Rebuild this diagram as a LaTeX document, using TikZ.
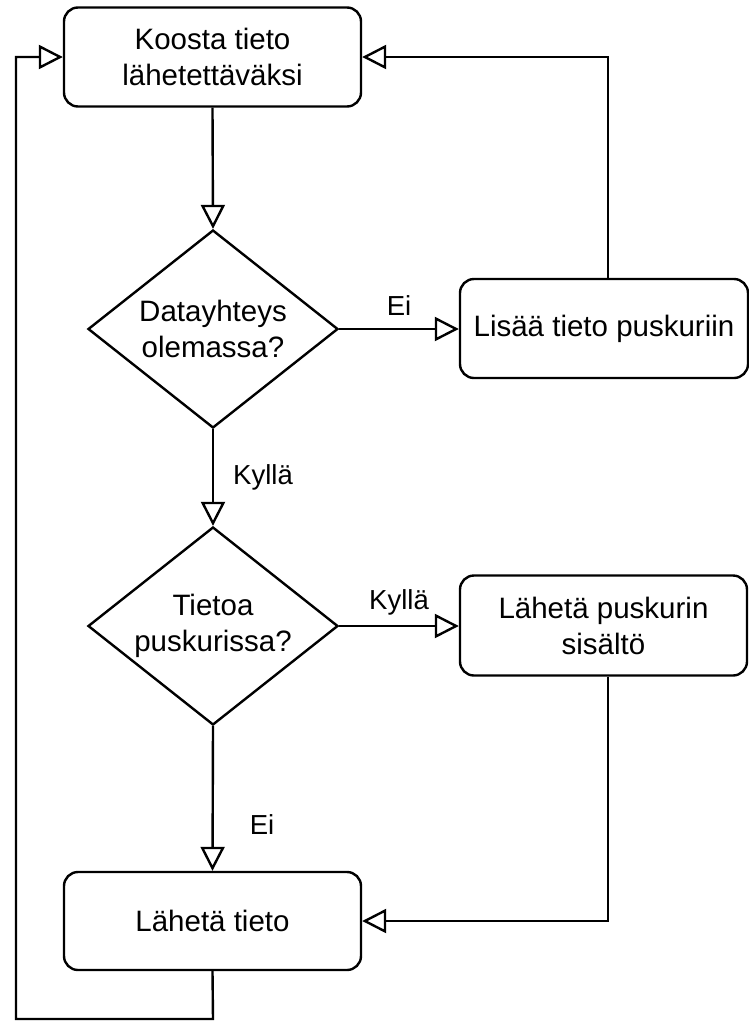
\documentclass[tikz,border=0pt]{standalone}
\usepackage{fontspec}
\setmainfont{Liberation Sans}
\usetikzlibrary{arrows.meta,shapes.geometric}
\begin{document}
\begin{tikzpicture}[x=1pt,y=-1pt,
  every node/.style={font=\fontsize{29.5}{36}\selectfont},
  proc/.style={draw,line width=2.4pt,rounded corners=14pt,align=center,inner sep=0pt},
  dec/.style={draw,line width=2.4pt,diamond,aspect=1.26,align=center,inner sep=0pt,minimum width=250pt,minimum height=198pt},
  conn/.style={line width=2.4pt,-{Triangle[open,length=24pt,width=24pt,line width=2.4pt]}},
  lbl/.style={inner sep=0pt,font=\fontsize{27.5}{33}\selectfont}]
\useasboundingbox (0,0) rectangle (748,1021);
\node[proc,minimum width=297pt,minimum height=99pt] (b1) at (212.5,57) {Koosta tieto\\lähetettäväksi};
\node[dec] (d1) at (213,329) {Datayhteys\\olemassa?};
\node[proc,minimum width=288pt,minimum height=99pt] (b2) at (604,328.5) {Lisää tieto puskuriin};
\node[dec] (d2) at (213,626) {Tietoa\\puskurissa?};
\node[proc,minimum width=287pt,minimum height=100pt] (b3) at (603.5,625.5) {Lähetä puskurin\\sisältö};
\node[proc,minimum width=297pt,minimum height=98pt] (b4) at (212.5,921) {Lähetä tieto};
\coordinate (c1) at (213,1019);
\coordinate (c2) at (16,1019);
\coordinate (c3) at (16,57);
\coordinate (c4) at (608,57);
\coordinate (c5) at (608,921);
\draw[conn] (b1.south) -- (d1.north);
\draw[conn] (d1.east) -- node[lbl,above=12pt] {Ei} (d1.east -| b2.west);
\draw[conn] (d1.south) -- node[lbl,pos=0.5,right=19pt] {Kyllä} (d2.north);
\draw[conn] (d2.east) -- node[lbl,above=10pt] {Kyllä} (d2.east -| b3.west);
\draw[conn] (d2.south) -- node[lbl,pos=0.68,right=36pt] {Ei} (b4.north);
\draw[conn] (b2.north -| c4) -- (c4) -- (b1.east);
\draw[conn] (b3.south -| c5) -- (c5) -- (b4.east);
\draw[conn] (b4.south) -- (c1) -- (c2) -- (c3) -- (b1.west);
\end{tikzpicture}
\end{document}
